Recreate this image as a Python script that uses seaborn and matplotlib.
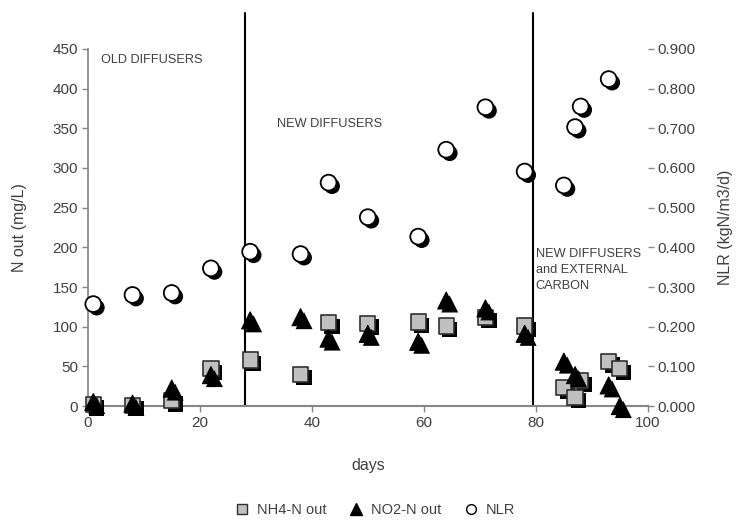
import matplotlib
matplotlib.use('Agg')
import matplotlib.pyplot as plt
import matplotlib.patheffects as pe
from matplotlib.lines import Line2D
import pandas as pd
import seaborn as sns

sns.set_theme(style='white')
plt.rcParams['font.family'] = ['Liberation Sans', 'DejaVu Sans']

# ── Data ───────────────────────────────────────────────────────────
nh4_days = [1, 8, 15, 22, 29, 38, 43, 50, 59, 64, 71, 78, 85, 87, 88, 93, 95]
nh4_out = [2, 1, 7, 47, 58, 40, 105, 104, 106, 101, 112, 101, 23, 11, 32, 56, 47]

no2_days = [1, 8, 15, 22, 29, 38, 43, 50, 59, 64, 71, 78, 85, 87, 93, 95]
no2_out = [5, 3, 22, 39, 108, 112, 85, 91, 81, 133, 123, 91, 56, 39, 26, 0]

nlr_days = [1, 8, 15, 22, 29, 38, 43, 50, 59, 64, 71, 78, 85, 87, 88, 93]
nlr = [0.257, 0.280, 0.285, 0.347, 0.389, 0.383, 0.563, 0.476, 0.427,
       0.646, 0.753, 0.591, 0.556, 0.703, 0.755, 0.824]

phase_changes = [28, 79.5]

nh4_df = pd.DataFrame({'days': nh4_days, 'N': nh4_out})
no2_df = pd.DataFrame({'days': no2_days, 'N': no2_out})
nlr_df = pd.DataFrame({'days': nlr_days, 'NLR': nlr})

TXT = '#404040'
AX = '#868686'
shadow = [pe.SimplePatchShadow(offset=(2.5, -2.5), shadow_rgbFace='black', alpha=1.0), pe.Normal()]

fig = plt.figure(figsize=(7.43, 5.26), dpi=100)
ax = fig.add_axes([0.118, 0.228, 0.754, 0.679])

sns.scatterplot(data=nh4_df, x='days', y='N', ax=ax, marker='s', s=120,
                color='#c0c0c0', edgecolor='#303030', linewidth=1.2, zorder=3)
ax.collections[-1].set_path_effects(shadow)
ax.collections[-1].set_clip_on(False)
sns.scatterplot(data=no2_df, x='days', y='N', ax=ax, marker='^', s=150,
                color='black', edgecolor='black', linewidth=0.8, zorder=4)
ax.collections[-1].set_path_effects(shadow)
ax.collections[-1].set_clip_on(False)

for xc in phase_changes:
    ax.axvline(xc, ymin=0, ymax=1.1, color='black', lw=1.5, clip_on=False, zorder=2)

ax.set_xlim(0, 100)
ax.set_ylim(0, 450)
ax.set_xticks(range(0, 101, 20))
ax.set_yticks(range(0, 451, 50))
ax.set_xlabel('days', fontsize=11.5, color=TXT, labelpad=20)
ax.set_ylabel('N out (mg/L)', fontsize=11.5, color=TXT, labelpad=18)

ax2 = ax.twinx()
sns.scatterplot(data=nlr_df, x='days', y='NLR', ax=ax2, marker='o', s=130,
                color='white', edgecolor='black', linewidth=1.3, zorder=5)
ax2.collections[-1].set_path_effects(shadow)
ax2.collections[-1].set_clip_on(False)
ax2.set_ylim(0, 0.9)
ax2.set_yticks([i / 10 for i in range(10)])
ax2.set_yticklabels([f'{i / 10:.3f}' for i in range(10)])
ax2.set_ylabel('NLR (kgN/m3/d)', fontsize=11.5, color=TXT, labelpad=16)

for a in (ax, ax2):
    for s in a.spines.values():
        s.set_visible(False)
    a.tick_params(direction='out', length=4, width=1, color=AX, labelsize=11,
                  labelcolor=TXT, pad=3)
ax.spines['left'].set_visible(True)
ax.spines['left'].set_color(AX)
ax.spines['bottom'].set_visible(True)
ax.spines['bottom'].set_color(AX)
ax.spines['bottom'].set_linewidth(1.5)
ax.tick_params(axis='x', bottom=True)
ax.tick_params(axis='y', left=True)
ax2.tick_params(axis='y', right=True)

ax.text(2.3, 444, 'OLD DIFFUSERS', fontsize=9.2, color=TXT, va='top')
ax.text(33.8, 363, 'NEW DIFFUSERS', fontsize=9.2, color=TXT, va='top')
ax.text(80.0, 199, 'NEW DIFFUSERS\nand EXTERNAL\nCARBON', fontsize=9.2, color=TXT,
        va='top', linespacing=1.45)

handles = [
    Line2D([], [], ls='none', marker='s', ms=7, mfc='#c0c0c0', mec='#303030', mew=1),
    Line2D([], [], ls='none', marker='^', ms=8, mfc='black', mec='black'),
    Line2D([], [], ls='none', marker='o', ms=7, mfc='white', mec='black', mew=1),
]
fig.legend(handles, ['NH4-N out', 'NO2-N out', 'NLR'], loc='center',
           bbox_to_anchor=(0.5, 0.03), ncol=3, frameon=False, fontsize=10.5,
           handletextpad=0.05, columnspacing=1.0, labelcolor=TXT)

fig.savefig('out.png', dpi=100)
